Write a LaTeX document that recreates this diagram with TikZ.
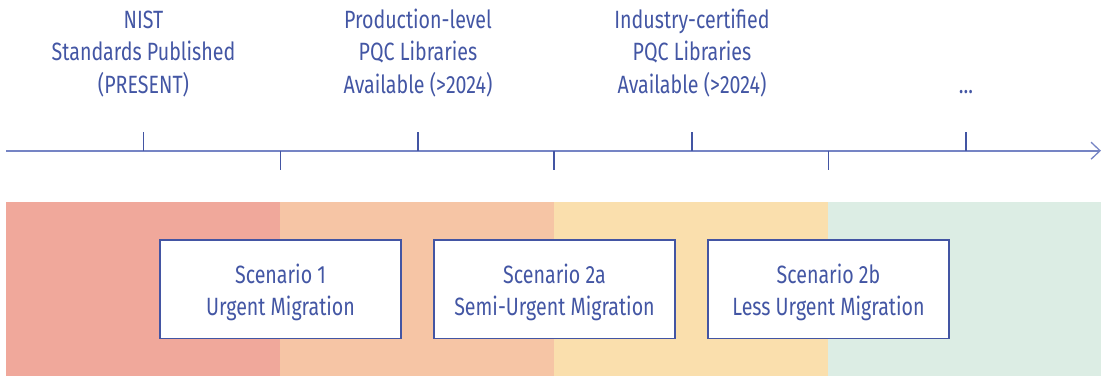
\documentclass[tikz,border=0pt]{standalone}
\usepackage{fontspec}
\setmainfont[FakeStretch=0.785]{Fira Sans}
\usetikzlibrary{arrows.meta}
\definecolor{txt}{HTML}{4356A4}
\definecolor{axis}{HTML}{7584C4}
\definecolor{tick}{HTML}{4355A3}
\definecolor{bandA}{HTML}{F0A89B}
\definecolor{bandB}{HTML}{F6C5A5}
\definecolor{bandC}{HTML}{FADFAD}
\definecolor{bandD}{HTML}{DCEDE4}
\tikzset{
  toplabel/.style={align=center, text=txt, font=\fontsize{25}{32.5}\selectfont, inner sep=0pt, anchor=base},
  scenbox/.style={draw=tick, line width=1.5pt, fill=white, minimum width=241pt, minimum height=98.5pt, inner sep=0pt},
  scentext/.style={align=center, text=txt, font=\fontsize{25}{32}\selectfont, inner sep=0pt, anchor=base},
  tickline/.style={draw=tick, line width=1.3pt}
}
\begin{document}
\begin{tikzpicture}[x=1pt,y=-1pt]
\useasboundingbox (0,0) rectangle (1104,376);
% bands
\fill[bandA] (6,202) rectangle (280,376);
\fill[bandB] (280,202) rectangle (554,376);
\fill[bandC] (554,202) rectangle (828,376);
\fill[bandD] (828,202) rectangle (1101,376);
% timeline
\coordinate (tstart) at (6,150.7);
\coordinate (tend) at (1101,150.7);
\draw[axis, line width=2pt, -{Straight Barb[length=9pt,width=17pt,line width=1.3pt]}] (tstart) -- (tend);
% ticks
\foreach \x in {143.5,418,692,966} \draw[tickline] (\x,132) -- (\x,150.7);
\foreach \x in {280.5,554,828.5} \draw[tickline] (\x,150.7) -- (\x,170);
% top labels
\node[toplabel] (l1) at (143.5,93.3) {NIST\\Standards Published\\(PRESENT)};
\node[toplabel] (l2) at (418,93.3) {Production-level\\PQC Libraries\\Available (>2024)};
\node[toplabel] (l3) at (692,93.3) {Industry-certified\\PQC Libraries\\Available (>2024)};
\node[toplabel] (l4) at (966,93.3) {...};
% scenario boxes
\node[scenbox] (s1) at (280.5,289.3) {};
\node[scenbox] (s2) at (554.5,289.3) {};
\node[scenbox] (s3) at (828.5,289.3) {};
\node[scentext] (t1) at (280.5,315) {Scenario 1\\Urgent Migration};
\node[scentext] (t2) at (554.5,315) {Scenario 2a\\Semi-Urgent Migration};
\node[scentext] (t3) at (828.5,315) {Scenario 2b\\Less Urgent Migration};
\end{tikzpicture}
\end{document}
